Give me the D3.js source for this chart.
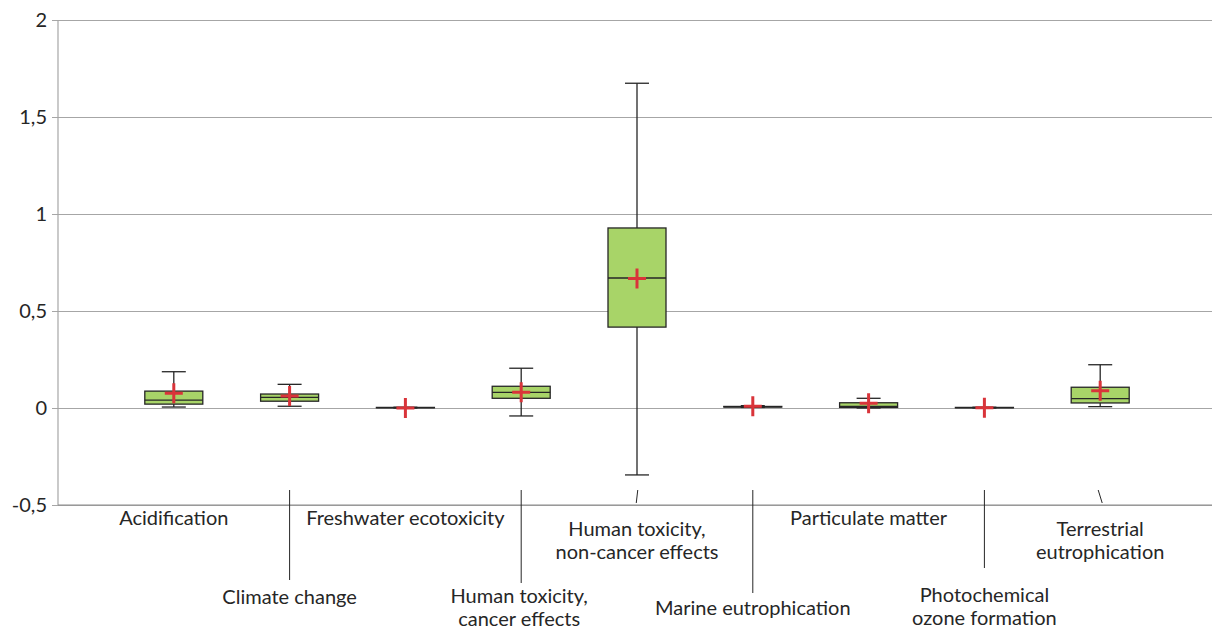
<!DOCTYPE html>
<html lang="en">
<head>
	<meta charset="UTF-8">
	<title>Box plot of impact categories</title>
	<script src="https://cdn.jsdelivr.net/npm/d3@7/dist/d3.min.js"></script>
	<style>
		body { margin: 0; background: #fff; }
		text { font-family: Lato, "Open Sans", sans-serif; fill: #262626; }
	</style>
</head>
<body>
	<div id="chart"></div>
<script>
// impact categories (label lines split with \n)
var categories = [
	"Acidification",
	"Climate change",
	"Freshwater ecotoxicity",
	"Human toxicity,\ncancer effects",
	"Human toxicity,\nnon-cancer effects",
	"Marine eutrophication",
	"Particulate matter",
	"Photochemical\nozone formation",
	"Terrestrial\neutrophication"
];
// box plot statistics
var minVals  = [0.005, 0.009, 0.000, -0.041, -0.345, 0.003, 0.000, 0.000, 0.007];
var q1Vals   = [0.020, 0.035, 0.001,  0.050,  0.417, 0.005, 0.003, 0.001, 0.026];
var medVals  = [0.041, 0.055, 0.002,  0.081,  0.670, 0.006, 0.008, 0.002, 0.048];
var q3Vals   = [0.087, 0.072, 0.003,  0.112,  0.928, 0.008, 0.027, 0.003, 0.107];
var maxVals  = [0.187, 0.122, 0.004,  0.205,  1.674, 0.012, 0.050, 0.004, 0.223];
var meanVals = [0.076, 0.062, 0.000,  0.081,  0.668, 0.009, 0.024, 0.001, 0.089];
var yTicks = [-0.5, 0, 0.5, 1, 1.5, 2];

window.onload = function(){
	var W = 1212, H = 630;
	var left = 58, top = 20, bottom = 505;

	var svg = d3.select("#chart").append("svg")
		.attr("width", W)
		.attr("height", H);

	var x = d3.scalePoint()
		.domain(categories)
		.range([left, 1216])
		.padding(1);

	var y = d3.scaleLinear()
		.domain([-0.5, 2])
		.range([bottom, top]);

	// gridlines + y labels
	var yAxis = d3.axisLeft(y)
		.tickValues(yTicks)
		.tickSize(-(W - left))
		.tickFormat(function(d){ return String(d).replace(".", ","); });

	var gy = svg.append("g")
		.attr("transform", "translate(" + left + ",0)")
		.call(yAxis);
	gy.select(".domain").remove();
	gy.selectAll(".tick line")
		.attr("x1", -6)
		.attr("stroke", "#a6a6a6")
		.attr("stroke-width", 1.2);
	gy.selectAll(".tick text")
		.attr("font-size", 20)
		.attr("x", -11)
		.style("font-family", null);
	gy.attr("font-family", null);

	// left axis line
	svg.append("line")
		.attr("x1", left).attr("x2", left)
		.attr("y1", y(2)).attr("y2", y(-0.5))
		.attr("stroke", "#a6a6a6").attr("stroke-width", 1.2);

	var rows = d3.range(categories.length).map(function(i){
		return {
			name: categories[i], min: minVals[i], q1: q1Vals[i], med: medVals[i],
			q3: q3Vals[i], max: maxVals[i], mean: meanVals[i]
		};
	});

	var boxW = 58, capW = 24;
	var g = svg.selectAll("g.box")
		.data(rows)
		.enter().append("g")
		.attr("class", "box")
		.attr("transform", function(d){ return "translate(" + x(d.name) + ",0)"; });

	var ink = "#262626";
	// whiskers
	g.append("line")
		.attr("y1", function(d){ return y(d.max); })
		.attr("y2", function(d){ return y(d.q3); })
		.attr("stroke", ink).attr("stroke-width", 1.3);
	g.append("line")
		.attr("y1", function(d){ return y(d.q1); })
		.attr("y2", function(d){ return y(d.min); })
		.attr("stroke", ink).attr("stroke-width", 1.3);
	g.append("line")
		.attr("x1", -capW / 2).attr("x2", capW / 2)
		.attr("y1", function(d){ return y(d.max); })
		.attr("y2", function(d){ return y(d.max); })
		.attr("stroke", ink).attr("stroke-width", 1.3);
	g.append("line")
		.attr("x1", -capW / 2).attr("x2", capW / 2)
		.attr("y1", function(d){ return y(d.min); })
		.attr("y2", function(d){ return y(d.min); })
		.attr("stroke", ink).attr("stroke-width", 1.3);

	// box
	g.append("rect")
		.attr("x", -boxW / 2)
		.attr("width", boxW)
		.attr("y", function(d){ return y(d.q3); })
		.attr("height", function(d){ return y(d.q1) - y(d.q3); })
		.attr("fill", "#a8d468")
		.attr("stroke", ink).attr("stroke-width", 1.3);
	g.append("line")
		.attr("x1", -boxW / 2).attr("x2", boxW / 2)
		.attr("y1", function(d){ return y(d.med); })
		.attr("y2", function(d){ return y(d.med); })
		.attr("stroke", ink).attr("stroke-width", 1.3);

	// mean marker
	g.append("path")
		.attr("d", function(d){
			var cy = y(d.mean);
			return "M-9," + cy + "H9M0," + (cy - 10) + "V" + (cy + 10);
		})
		.attr("stroke", "#d9343a").attr("stroke-width", 3)
		.attr("fill", "none");

	// bottom axis line
	svg.append("line")
		.attr("x1", left).attr("x2", W)
		.attr("y1", y(-0.5)).attr("y2", y(-0.5))
		.attr("stroke", "#8c8c8c").attr("stroke-width", 1.2);

	// category labels, staggered like the spreadsheet output
	var labelLayout = [
		{ ty: 525, lineEnd: null },
		{ ty: 604, lineEnd: 580 },
		{ ty: 525, lineEnd: null },
		{ ty: 603, lineEnd: 583, dx: -2 },
		{ ty: 536, lineEnd: 503, tilt: -1.5 },
		{ ty: 615, lineEnd: 593 },
		{ ty: 525, lineEnd: null },
		{ ty: 602, lineEnd: 568 },
		{ ty: 536, lineEnd: 503, tilt: 4 }
	];

	var lab = svg.selectAll("g.lab")
		.data(rows)
		.enter().append("g")
		.attr("class", "lab");

	lab.each(function(d, i){
		var L = labelLayout[i];
		var cx = x(d.name) + (L.dx || 0);
		var sel = d3.select(this);
		if (L.lineEnd) {
			sel.append("line")
				.attr("x1", x(d.name) + (L.tilt ? -L.tilt / 2 : 0))
				.attr("x2", x(d.name) + (L.tilt ? L.tilt / 2 : 0))
				.attr("y1", 490).attr("y2", L.lineEnd)
				.attr("stroke", ink).attr("stroke-width", 1);
		}
		var lines = d.name.split("\n");
		var t = sel.append("text")
			.attr("text-anchor", "middle")
			.attr("font-size", 20);
		lines.forEach(function(s, k){
			t.append("tspan")
				.attr("x", cx)
				.attr("y", L.ty + k * 23)
				.text(s);
		});
	});
};
</script>
</body>
</html>
